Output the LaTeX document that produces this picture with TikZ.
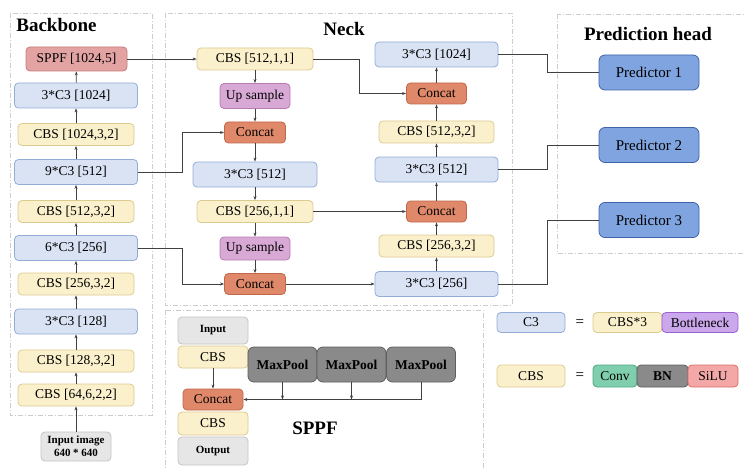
\documentclass[tikz,border=0pt]{standalone}
\usepackage{fontspec}
\setmainfont{Liberation Serif}
\usetikzlibrary{arrows.meta}
\definecolor{c3fill}{HTML}{DAE3F3}
\definecolor{c3line}{HTML}{93ACD8}
\definecolor{cbsfill}{HTML}{FBF0CC}
\definecolor{cbsline}{HTML}{DCCB8E}
\definecolor{catfill}{HTML}{E0896A}
\definecolor{catline}{HTML}{C2664A}
\definecolor{upfill}{HTML}{D9A9D6}
\definecolor{upline}{HTML}{B67CB3}
\definecolor{sppffill}{HTML}{E3A3A3}
\definecolor{sppfline}{HTML}{C97A7A}
\definecolor{predfill}{HTML}{7FA4E0}
\definecolor{predline}{HTML}{3F63A8}
\definecolor{poolfill}{HTML}{8A8A8A}
\definecolor{poolline}{HTML}{5E5E5E}
\definecolor{iofill}{HTML}{E6E6E6}
\definecolor{ioline}{HTML}{C4C4C4}
\definecolor{bnfill}{HTML}{8A8A8A}
\definecolor{convfill}{HTML}{7FCFAE}
\definecolor{convline}{HTML}{4FA785}
\definecolor{silufill}{HTML}{F4A7A7}
\definecolor{siluline}{HTML}{E06B6B}
\definecolor{botfill}{HTML}{CBA7EB}
\definecolor{botline}{HTML}{9B62CF}
\definecolor{linecol}{HTML}{404040}
\tikzset{
  blk/.style={draw, rounded corners=4pt, line width=0.8pt, inner sep=0pt, align=center, font=\fontsize{13.5}{15}\selectfont},
  c3/.style={blk, fill=c3fill, draw=c3line, minimum width=123pt, minimum height=25pt},
  cbs/.style={blk, fill=cbsfill, draw=cbsline, minimum width=116pt, minimum height=22pt},
  cat/.style={blk, fill=catfill, draw=catline, minimum width=61pt, minimum height=21pt},
  ups/.style={blk, fill=upfill, draw=upline, minimum width=70pt, minimum height=25pt},
  pred/.style={blk, fill=predfill, draw=predline, rounded corners=6pt, minimum width=100pt, minimum height=35pt, font=\fontsize{15}{17}\selectfont},
  pool/.style={blk, fill=poolfill, draw=poolline, rounded corners=6pt, minimum width=69pt, minimum height=35pt, font=\bfseries\fontsize{13.5}{15}\selectfont},
  io/.style={blk, fill=iofill, draw=ioline, minimum width=70pt, font=\bfseries\fontsize{11}{13}\selectfont},
  eqsign/.style={font=\bfseries\fontsize{15}{17}\selectfont, text=linecol},
  title/.style={font=\bfseries\fontsize{19}{21}\selectfont},
  region/.style={draw=gray!40, line width=0.7pt, dash pattern=on 5pt off 2pt on 1pt off 2pt},
  arr/.style={draw=linecol, line width=0.7pt, -{Stealth[length=4pt,width=3pt]}},
  wire/.style={draw=linecol, line width=0.7pt},
}
\begin{document}
\begin{tikzpicture}[x=1pt,y=-1pt]
\useasboundingbox (0,0) rectangle (744,468);
% dashed regions
\draw[region] (10,13) rectangle (152,415);
\draw[region] (165,13) rectangle (512,305);
\draw[region] (557,14) rectangle (750,253);
\draw[region] (165,310) rectangle (483,475);
\node[title] (tbb) at (56.5,25){Backbone};
\node[title] (tnk) at (344,29){Neck};
\node[title] (tph) at (648,34){Prediction head};
\node[title] (tsp) at (315,428){SPPF};
% backbone
\node[io, minimum height=29pt] (bb0) at (76,446.5){Input image\\640 * 640};
\node[cbs] (bb1) at (76,395){CBS [64,6,2,2]};
\node[cbs] (bb2) at (76,361){CBS [128,3,2]};
\node[c3] (bb3) at (76,321.5){3*C3 [128]};
\node[cbs] (bb4) at (76,284){CBS [256,3,2]};
\node[c3] (bb5) at (76,248){6*C3 [256]};
\node[cbs] (bb6) at (76,211.5){CBS [512,3,2]};
\node[c3] (bb7) at (76,172){9*C3 [512]};
\node[cbs] (bb8) at (76,134.5){CBS [1024,3,2]};
\node[c3] (bb9) at (76,95.5){3*C3 [1024]};
\node[blk, fill=sppffill, draw=sppfline, minimum width=101pt, minimum height=24pt] (bb10) at (76.5,59){SPPF [1024,5]};
\foreach \i [count=\j from 1] in {0,...,9}
  \draw[arr] (bb\i) -- (bb\j);
% neck, left column
\node[cbs] (nl1) at (255,59){CBS [512,1,1]};
\node[ups] (nl2) at (255,96){Up sample};
\node[cat] (nl3) at (255,132.5){Concat};
\node[c3, minimum width=124pt] (nl4) at (255,174.5){3*C3 [512]};
\node[cbs] (nl5) at (255,211.5){CBS [256,1,1]};
\node[ups, minimum height=23pt] (nl6) at (255,248.5){Up sample};
\node[cat] (nl7) at (255,284){Concat};
\foreach \i [count=\j from 2] in {1,...,6}
  \draw[arr] (nl\i) -- (nl\j);
% neck, right column
\node[c3] (nr1) at (436.5,284){3*C3 [256]};
\node[cbs, minimum width=115pt] (nr2) at (436.5,246){CBS [256,3,2]};
\node[cat, minimum width=60pt] (nr3) at (436.5,211.5){Concat};
\node[c3] (nr4) at (436.5,169.5){3*C3 [512]};
\node[cbs, minimum width=115pt] (nr5) at (436.5,132){CBS [512,3,2]};
\node[cat, minimum width=60pt] (nr6) at (436.5,93.5){Concat};
\node[c3] (nr7) at (436.5,54.5){3*C3 [1024]};
\foreach \i [count=\j from 2] in {1,...,6}
  \draw[arr] (nr\i) -- (nr\j);
% cross links
\draw[arr] (bb10) -- (nl1);
\draw[arr] (bb7.east) -- ++(44,0) |- (nl3.west);
\draw[arr] (bb5.east) -- ++(44,0) |- (nl7.west);
\draw[arr] (nl1.east) -- ++(46,0) |- (nr6.west);
\draw[arr] (nl5) -- (nr3);
\draw[arr] (nl7) -- (nr1);
% prediction head
\node[pred] (p1) at (649,72.5){Predictor 1};
\node[pred] (p2) at (649,145){Predictor 2};
\node[pred] (p3) at (649,220){Predictor 3};
\draw[wire] (nr7.east) -- ++(49,0) |- (p1.west);
\draw[wire] (nr4.east) -- ++(49,0) |- (p2.west);
\draw[wire] (nr1.east) -- ++(49,0) |- (p3.west);
% SPPF block
\node[io, minimum height=27pt] (s1) at (213,330.5){Input};
\node[cbs, minimum width=70pt] (s2) at (213,357){CBS};
\node[cat, minimum width=60pt] (s3) at (213,399.5){Concat};
\node[cbs, minimum width=70pt, minimum height=23pt] (s4) at (213,423.5){CBS};
\node[io, minimum height=28pt] (s5) at (213,451){Output};
\node[pool] (m1) at (282.5,364.5){MaxPool};
\node[pool] (m2) at (351.5,364.5){MaxPool};
\node[pool] (m3) at (421,364.5){MaxPool};
\draw[arr] (s2) -- (s3);
\draw[arr] (m3.south) |- (s3.east);
\draw[arr] (m1.south) -- (m1.south |- s3.east);
\draw[arr] (m2.south) -- (m2.south |- s3.east);
% legend
\node[c3, minimum width=68pt, minimum height=20pt] (lc3) at (531,322.5){C3};
\node[eqsign] (leq1) at (580,322.5){=};
\node[cbs, minimum width=69pt, minimum height=20pt] (lcbs3) at (627.5,322.5){CBS*3};
\node[blk, fill=botfill, draw=botline, minimum width=76pt, minimum height=20pt] (lbot) at (700,322.5){Bottleneck};
\node[cbs, minimum width=68pt] (lcbs) at (531,376){CBS};
\node[eqsign] (leq2) at (580,376){=};
\node[blk, fill=convfill, draw=convline, minimum width=44pt, minimum height=22pt] (lconv) at (615,376){Conv};
\node[blk, fill=bnfill, draw=poolline, minimum width=51pt, minimum height=22pt, font=\bfseries\fontsize{13.5}{15}\selectfont] (lbn) at (662.5,376){BN};
\node[blk, fill=silufill, draw=siluline, minimum width=50pt, minimum height=22pt] (lsilu) at (713,376){SiLU};
\end{tikzpicture}
\end{document}
